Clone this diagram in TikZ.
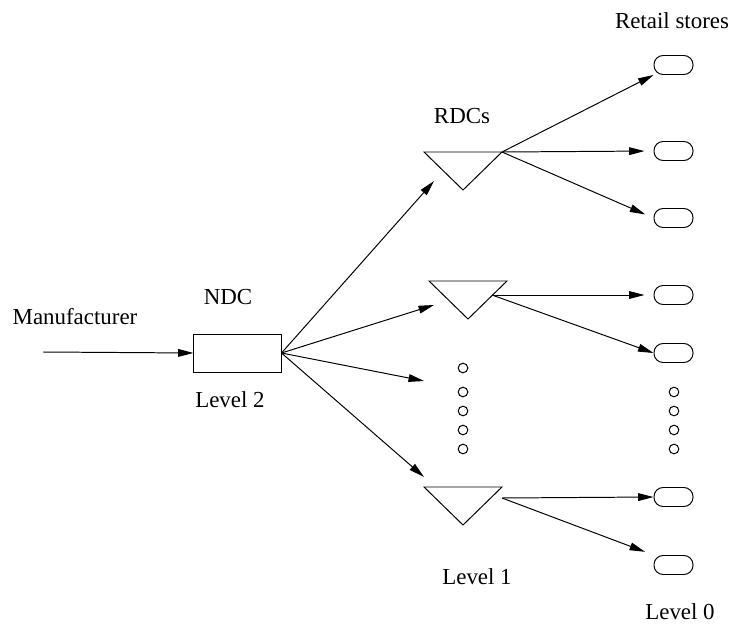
\documentclass[tikz,border=0pt]{standalone}
\usepackage{fontspec}
\setmainfont{Liberation Serif}
\usetikzlibrary{arrows.meta,positioning,calc}

\begin{document}
\begin{tikzpicture}[
  x=0.025cm, y=-0.025cm,
  font=\fontsize{16.3}{19}\selectfont,
  line width=0.7pt,
  ndcbox/.style={draw, minimum width=2.175cm, minimum height=0.95cm, inner sep=0pt},
  store/.style={draw, rounded corners=0.23cm, minimum width=0.975cm, minimum height=0.475cm, inner sep=0pt},
  ring/.style={draw, circle, minimum size=0.24cm, inner sep=0pt},
  lbl/.style={inner sep=0pt},
  >={Triangle[length=11pt,width=5.5pt]}
]
\useasboundingbox (0,0) rectangle (732,624);

% labels
\node[lbl] (tMan) at (75,317) {Manufacturer};
\node[lbl] (tNDC) at (228,297) {NDC};
\node[lbl] (tL2) at (230,400) {Level 2};
\node[lbl] (tRDC) at (462,116) {RDCs};
\node[lbl] (tL1) at (477,577) {Level 1};
\node[lbl] (tRet) at (672,21) {Retail stores};
\node[lbl] (tL0) at (680,612) {Level 0};

% NDC
\node[ndcbox] (ndc) at (237.5,353) {};
\coordinate (mIn) at (43,352);
\draw[->] (mIn) -- (ndc.west);

% RDCs
\draw (424,152) coordinate (r1) -- ++(78,0) coordinate (o1) -- ++(-39,38) -- cycle;
\draw (429,281) coordinate (r2) -- ++(78,0) coordinate (r2e) -- ++(-39,38) -- cycle;
\draw (424,487) coordinate (r3) -- ++(78,0) coordinate (r3e) -- ++(-39,38) -- cycle;
\coordinate (o2) at (492,295);
\coordinate (o3) at (502,498);

\coordinate (a1) at (434,181);
\coordinate (a2) at (434,305);
\coordinate (a3) at (424,381);
\coordinate (a4) at (424,477);
\draw[->] (ndc.east) -- (a1);
\draw[->] (ndc.east) -- (a2);
\draw[->] (ndc.east) -- (a3);
\draw[->] (ndc.east) -- (a4);

% retail stores
\node[store] (s1) at (673.5,65) {};
\node[store] (s2) at (673.5,151) {};
\node[store] (s3) at (673.5,218) {};
\node[store] (s4) at (673.5,295) {};
\node[store] (s5) at (673.5,353) {};
\node[store] (s6) at (673.5,497) {};
\node[store] (s7) at (673.5,565) {};

\draw[->] (o1) -- (s1.south west);
\draw[->, shorten >=6.4pt] (o1) -- (s2.west);
\draw[->, shorten >=6.4pt] (o1) -- (s3.west);
\draw[->, shorten >=6.4pt] (o2) -- (s4.west);
\draw[->] (o2) -- (s5.west);
\draw[->] (o3) -- (s6.west);
\draw[->, shorten >=6.4pt] (o3) -- (s7.north west);

% dots
\foreach \y [count=\i] in {368,392,411,430,449}
  \node[ring] (dl\i) at (463,\y) {};
\foreach \y [count=\i] in {392,411,430,449}
  \node[ring] (dr\i) at (674,\y) {};

\end{tikzpicture}
\end{document}
